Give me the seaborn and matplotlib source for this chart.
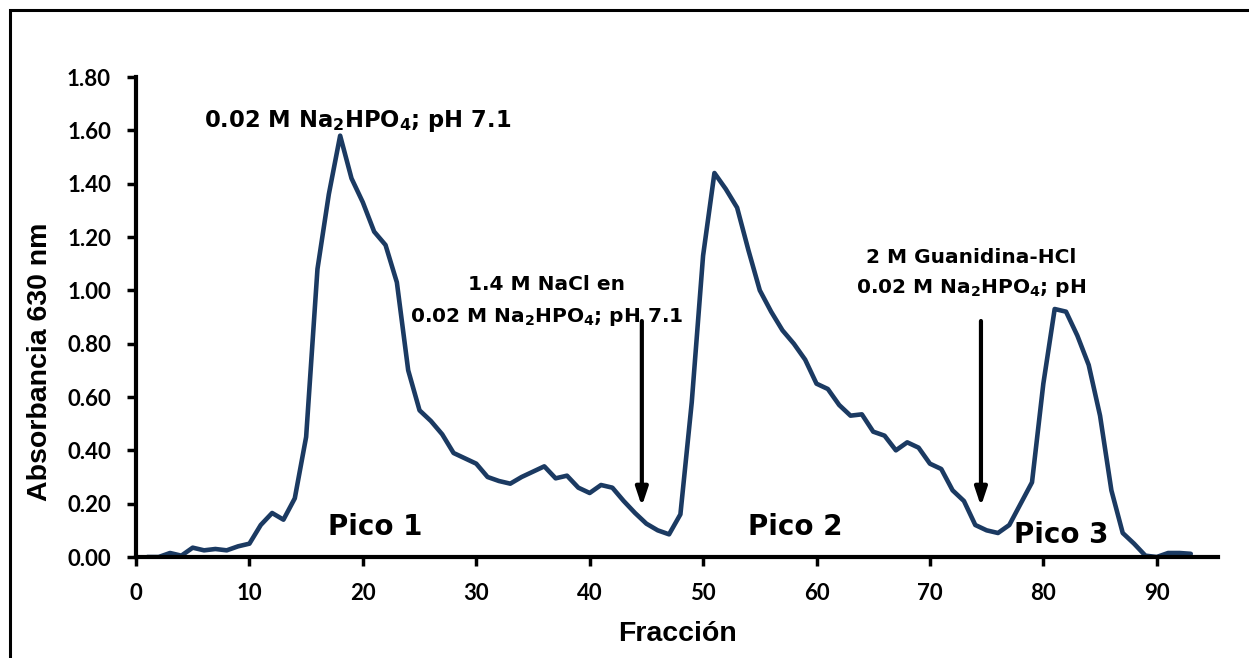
import numpy as np
import pandas as pd
import matplotlib
matplotlib.use("Agg")
import matplotlib.pyplot as plt
import seaborn as sns
from matplotlib.patches import Rectangle

# ---- data ----
fraccion = list(range(1, 94))
absorbancia = [
    0.00, 0.00, 0.015, 0.005, 0.035, 0.025, 0.03, 0.025, 0.04, 0.05,
    0.12, 0.165, 0.14, 0.22, 0.45, 1.08, 1.36, 1.58, 1.42, 1.33,
    1.22, 1.17, 1.03, 0.70, 0.55, 0.51, 0.46, 0.39, 0.37, 0.35,
    0.30, 0.285, 0.275, 0.30, 0.32, 0.34, 0.295, 0.305, 0.26, 0.24,
    0.27, 0.26, 0.21, 0.165, 0.125, 0.10, 0.085, 0.16, 0.58, 1.13,
    1.44, 1.38, 1.31, 1.15, 1.00, 0.92, 0.85, 0.80, 0.74, 0.65,
    0.63, 0.57, 0.53, 0.535, 0.47, 0.455, 0.40, 0.43, 0.41, 0.35,
    0.33, 0.25, 0.21, 0.12, 0.10, 0.09, 0.12, 0.20, 0.28, 0.65,
    0.93, 0.92, 0.83, 0.72, 0.53, 0.25, 0.09, 0.05, 0.005, 0.00,
    0.015, 0.015, 0.012,
]
y_ticks = [0.0, 0.2, 0.4, 0.6, 0.8, 1.0, 1.2, 1.4, 1.6, 1.8]
x_ticks = [0, 10, 20, 30, 40, 50, 60, 70, 80, 90]
peak_labels = ["Pico 1", "Pico 2", "Pico 3"]
peak_pos = [(21.1, 0.0825), (58.1, 0.0825), (81.6, 0.0525)]
arrow_x = [44.6, 74.5]

df = pd.DataFrame({"Fracción": fraccion, "Absorbancia": absorbancia})

sns.set_theme(style="white")
plt.rcParams["font.family"] = ["Liberation Sans", "DejaVu Sans"]
plt.rcParams["text.color"] = "black"
plt.rcParams["axes.labelcolor"] = "black"
plt.rcParams["xtick.color"] = "black"
plt.rcParams["ytick.color"] = "black"
plt.rcParams["mathtext.fontset"] = "custom"
plt.rcParams["mathtext.rm"] = "DejaVu Sans:bold"
plt.rcParams["mathtext.bf"] = "DejaVu Sans:bold"
plt.rcParams["mathtext.default"] = "bf"

fig = plt.figure(figsize=(12.49, 6.58), dpi=100)
fig.patch.set_facecolor("white")
ax = fig.add_axes([136/1249, 1-557/658, (1218-136)/1249, (557-77)/658])

# outer border
fig.add_artist(Rectangle((10/1249, -0.05), 1.2, (1+0.05) - 10/658,
                         transform=fig.transFigure, fill=False,
                         edgecolor="black", linewidth=2.2))

sns.lineplot(data=df, x="Fracción", y="Absorbancia", ax=ax, color="#1b3a62",
             linewidth=3.3, solid_joinstyle="round", solid_capstyle="round")

ax.set_xlim(0, 95.4)
ax.set_ylim(0, 1.8)
ax.set_xticks(x_ticks)
ax.set_yticks(y_ticks)
ax.set_yticklabels([f"{v:.2f}" for v in y_ticks])
ax.set_xticklabels([str(v) for v in x_ticks])
for lab in ax.get_xticklabels() + ax.get_yticklabels():
    lab.set_fontfamily(["Lato", "DejaVu Sans"])
    lab.set_fontweight("bold")
    lab.set_fontsize(16)
ax.tick_params(axis="both", direction="out", length=6.5, width=2.5, color="black",
               left=True, bottom=True)
ax.tick_params(axis="y", pad=11.5)
ax.tick_params(axis="x", pad=12)

for side in ["top", "right"]:
    ax.spines[side].set_visible(False)
for side in ["left", "bottom"]:
    ax.spines[side].set_linewidth(3)
    ax.spines[side].set_color("black")
ax.grid(False)

ax.set_xlabel("Fracción", fontsize=20.5, fontweight="bold")
ax.set_ylabel("Absorbancia 630 nm", fontsize=20.5, fontweight="bold")
ax.xaxis.set_label_coords(0.5, -0.1335)
ax.yaxis.set_label_coords(-0.0767, 0.406)

# annotations
ann = dict(fontfamily=["DejaVu Sans"], fontweight="bold", va="baseline")
sub = r"0.02 M Na$_{2}$HPO$_{4}$; pH"
ax.text(6.0, 1.612, sub + " 7.1", fontsize=16.3, ha="left", **ann)
ax.text(36.2, 1.001, "1.4 M NaCl en", fontsize=14.5, ha="center", **ann)
ax.text(36.2, 0.882, sub + " 7.1", fontsize=14.5, ha="center", **ann)
ax.text(73.6, 1.101, "2 M Guanidina-HCl", fontsize=14.5, ha="center", **ann)
ax.text(73.6, 0.989, sub, fontsize=14.5, ha="center", **ann)

for (px, py), lab in zip(peak_pos, peak_labels):
    ax.text(px, py, lab, fontsize=20, ha="center", **ann)

for xa in arrow_x:
    ax.annotate("", xy=(xa, 0.19), xytext=(xa, 0.885),
                arrowprops=dict(arrowstyle="-|>,head_length=0.9,head_width=0.3",
                                color="black", lw=3, shrinkA=0, shrinkB=0))

fig.savefig("out.png", dpi=100, facecolor="white")
